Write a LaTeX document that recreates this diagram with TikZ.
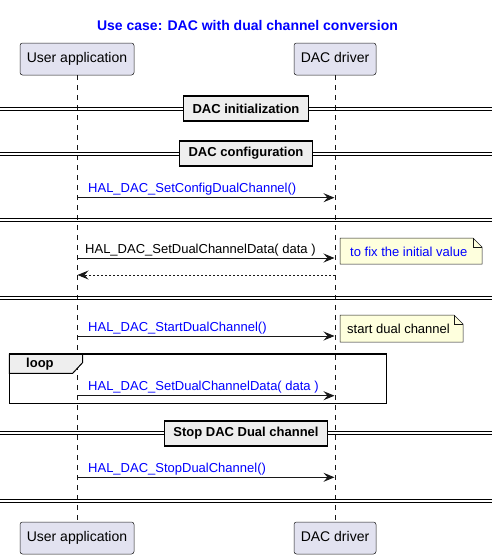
\documentclass[tikz,border=0pt]{standalone}
\usepackage{fontspec}
\setmainfont{Liberation Sans}
\usetikzlibrary{arrows.meta}
\definecolor{partfill}{HTML}{E2E2F0}
\definecolor{edge}{HTML}{181818}
\definecolor{divfill}{HTML}{EEEEEE}
\definecolor{notefill}{HTML}{FEFFDD}
\definecolor{msgblue}{HTML}{0000FF}
\tikzset{
 part/.style={draw=edge, line width=0.5pt, fill=partfill, rounded corners=2.5pt, minimum height=32pt, inner sep=0pt, text height=10pt, text depth=3pt, font=\fontsize{14}{16}\selectfont},
 life/.style={draw=edge, line width=0.5pt, dash pattern=on 5pt off 5pt},
 msg/.style={draw=edge, line width=1pt, -{Stealth[length=11pt,width=9pt,inset=4pt]}},
 ret/.style={draw=edge, line width=1pt, dash pattern=on 2pt off 2pt, -{Stealth[length=11pt,width=9pt,inset=4pt]}},
 msgtext/.style={anchor=base west, inner sep=0pt, font=\fontsize{13}{15}\selectfont},
 divline/.style={draw=black, line width=1pt},
 divbox/.style={draw=black, line width=1.5pt, fill=divfill, minimum height=25pt, inner xsep=9pt, font=\fontsize{13}{15}\selectfont\bfseries},
 notebox/.style={draw=edge, line width=0.5pt, fill=notefill},
 notetext/.style={anchor=west, inner sep=0pt, font=\fontsize{13}{15}\selectfont},
 framebox/.style={draw=black, line width=1.5pt},
 tabbox/.style={draw=black, line width=1pt, fill=divfill},
}
\begin{document}
\begin{tikzpicture}[x=1pt,y=-1pt]
\useasboundingbox (0,0) rectangle (497,558);
% title
\node[font=\fontsize{14}{16}\selectfont\bfseries, text=msgblue] (title) at (247.5,25) {Use case: DAC with dual channel conversion};
% participants
\node[part, minimum width=114pt] (ua) at (77,59) {User application};
\node[part, minimum width=82pt] (dd) at (335,59) {DAC driver};
\node[part, minimum width=114pt] (ub) at (77,538) {User application};
\node[part, minimum width=82pt] (db) at (335,538) {DAC driver};
\draw[life] (ua.south) -- (ub.north);
\draw[life] (dd.south) -- (db.north);
% divider 1
\draw[divline] (0,107) -- (492,107) (0,110) -- (492,110);
\node[divbox] (d1) at (246,108.5) {DAC initialization};
% divider 2
\draw[divline] (0,152) -- (492,152) (0,155) -- (492,155);
\node[divbox] (d2) at (246,153.5) {DAC configuration};
% message 1
\coordinate (m1s) at (77,197.7); \coordinate (m1e) at (334.5,197.7);
\draw[msg] (m1s) -- (m1e);
\node[msgtext, text=msgblue] (t1) at (88,192.7) {HAL\_DAC\_SetConfigDualChannel()};
% divider 3
\draw[divline] (0,218) -- (492,218) (0,221) -- (492,221);
% message 2
\coordinate (m2s) at (77,258); \coordinate (m2e) at (334.5,258);
\draw[msg] (m2s) -- (m2e);
\node[msgtext] (t2) at (85,253) {HAL\_DAC\_SetDualChannelData( data )};
% note 1
\draw[notebox] (340,238) -- (473,238) -- (482,247) -- (482,264) -- (340,264) -- cycle;
\draw[notebox, fill=none] (473,238) -- (473,247) -- (482,247);
\node[notetext, text=msgblue] (n1) at (350,251.5) {to fix the initial value};
% return
\coordinate (r1s) at (335,275); \coordinate (r1e) at (77.5,275);
\draw[ret] (r1s) -- (r1e);
% divider 4
\draw[divline] (0,296) -- (492,296) (0,299) -- (492,299);
% message 3
\coordinate (m3s) at (77,336); \coordinate (m3e) at (334.5,336);
\draw[msg] (m3s) -- (m3e);
\node[msgtext, text=msgblue] (t3) at (88,331) {HAL\_DAC\_StartDualChannel()};
% note 2
\draw[notebox] (340,315) -- (454,315) -- (463,324) -- (463,342) -- (340,342) -- cycle;
\draw[notebox, fill=none] (454,315) -- (454,324) -- (463,324);
\node[notetext] (n2) at (347,329) {start dual channel};
% loop
\draw[tabbox] (9.3,354) -- (82.7,354) -- (82.7,362.5) -- (72.7,373.3) -- (9.3,373.3) -- cycle;
\draw[framebox] (9.3,354) rectangle (386.7,403.7);
\node[anchor=west, inner sep=0pt, font=\fontsize{13}{15}\selectfont\bfseries] (lp) at (26,364) {loop};
% message 4
\coordinate (m4s) at (77,395.7); \coordinate (m4e) at (334.5,395.7);
\draw[msg] (m4s) -- (m4e);
\node[msgtext, text=msgblue] (t4) at (88,390.7) {HAL\_DAC\_SetDualChannelData( data )};
% divider 5
\draw[divline] (0,431.5) -- (492,431.5) (0,434.5) -- (492,434.5);
\node[divbox] (d3) at (246,433.5) {Stop DAC Dual channel};
% message 5
\coordinate (m5s) at (77,477.3); \coordinate (m5e) at (334.5,477.3);
\draw[msg] (m5s) -- (m5e);
\node[msgtext, text=msgblue] (t5) at (88,472.3) {HAL\_DAC\_StopDualChannel()};
% divider 6
\draw[divline] (0,499) -- (492,499) (0,502) -- (492,502);
\end{tikzpicture}
\end{document}
